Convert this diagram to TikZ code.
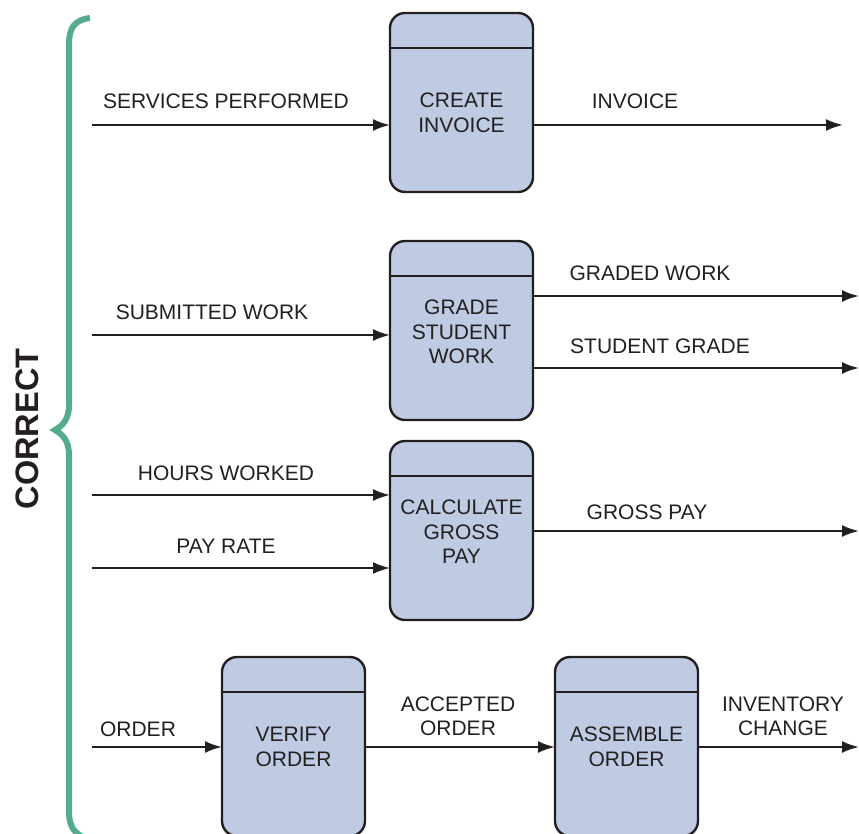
\documentclass[tikz,border=0pt]{standalone}
\usepackage{fontspec}
\setmainfont{Liberation Sans}
\usetikzlibrary{arrows.meta}
\definecolor{boxfill}{RGB}{191,203,227}
\definecolor{ink}{RGB}{35,31,32}
\definecolor{bracegreen}{RGB}{84,172,138}
\tikzset{
  proc/.style={draw=ink, line width=2.4pt, fill=boxfill, rounded corners=15pt,
    minimum width=143pt, minimum height=179pt, inner sep=0pt, outer sep=0pt, anchor=north west},
  ptext/.style={text=ink, font=\fontsize{21}{24.5}\selectfont, align=center, inner sep=0pt},
  lbl/.style={text=ink, font=\fontsize{21}{24.5}\selectfont, align=center, inner sep=0pt},
  flow/.style={draw=ink, line width=2.3pt, -{Latex[length=17pt,width=12pt]}},
  divider/.style={draw=ink, line width=2.2pt},
}
\begin{document}
\begin{tikzpicture}[x=1pt,y=-1pt]
\useasboundingbox (0,0) rectangle (859,834);

% brace
\draw[bracegreen, line width=6pt, line cap=butt]
  (90,18) .. controls (74,20) and (69,28) .. (69,45)
  -- (69,405) .. controls (69,420) and (62,426) .. (55,430)
  .. controls (62,434) and (69,440) .. (69,455)
  -- (69,810) .. controls (69,828) and (74,834) .. (90,840);
\node[rotate=90, text=ink, font=\fontsize{32.5}{34}\selectfont\bfseries, inner sep=0pt] (correct) at (27,429) {CORRECT};

% process boxes
\node[proc] (b1) at (390,13) {};
\node[proc] (b2) at (390,241) {};
\node[proc] (b3) at (390,441) {};
\node[proc] (b4) at (222,657) {};
\node[proc] (b5) at (555,657) {};
\foreach \b in {b1,b2,b3,b4,b5}{
  \draw[divider] ([yshift=-35pt]\b.north west) -- ([yshift=-35pt]\b.north east);
}
\node[ptext] (t1) at (461.5,113) {CREATE\\INVOICE};
\node[ptext] (t2) at (461.5,332) {GRADE\\STUDENT\\WORK};
\node[ptext] (t3) at (461.5,532) {CALCULATE\\GROSS\\PAY};
\node[ptext] (t4) at (293.5,747) {VERIFY\\ORDER};
\node[ptext] (t5) at (626.5,747) {ASSEMBLE\\ORDER};

% free ends
\coordinate (s1) at (92,125);
\coordinate (e1) at (843,125);
\coordinate (s2) at (92,335);
\coordinate (e2a) at (859,296);
\coordinate (e2b) at (859,368);
\coordinate (s3a) at (92,495);
\coordinate (s3b) at (92,568);
\coordinate (e3) at (859,531);
\coordinate (s4) at (92,747);
\coordinate (e5) at (859,747);

% flows
\draw[flow] (s1) -- (s1 -| b1.west);
\draw[flow] (e1 -| b1.east) -- (e1);
\draw[flow] (s2) -- (s2 -| b2.west);
\draw[flow] (e2a -| b2.east) -- (e2a);
\draw[flow] (e2b -| b2.east) -- (e2b);
\draw[flow] (s3a) -- (s3a -| b3.west);
\draw[flow] (s3b) -- (s3b -| b3.west);
\draw[flow] (e3 -| b3.east) -- (e3);
\draw[flow] (s4) -- (s4 -| b4.west);
\draw[flow] (s4 -| b4.east) -- (s4 -| b5.west);
\draw[flow] (e5 -| b5.east) -- (e5);

% labels
\node[lbl] (l1) at (226,101) {SERVICES PERFORMED};
\node[lbl] (l2) at (635,101) {INVOICE};
\node[lbl] (l3) at (212,312) {SUBMITTED WORK};
\node[lbl] (l4) at (650,273) {GRADED WORK};
\node[lbl] (l5) at (660,346) {STUDENT GRADE};
\node[lbl] (l6) at (226,473) {HOURS WORKED};
\node[lbl] (l7) at (226,546) {PAY RATE};
\node[lbl] (l8) at (647,512) {GROSS PAY};
\node[lbl] (l9) at (138,729) {ORDER};
\node[lbl] (l10) at (458,716.5) {ACCEPTED\\ORDER};
\node[lbl] (l11) at (783,716.5) {INVENTORY\\CHANGE};
\end{tikzpicture}
\end{document}
